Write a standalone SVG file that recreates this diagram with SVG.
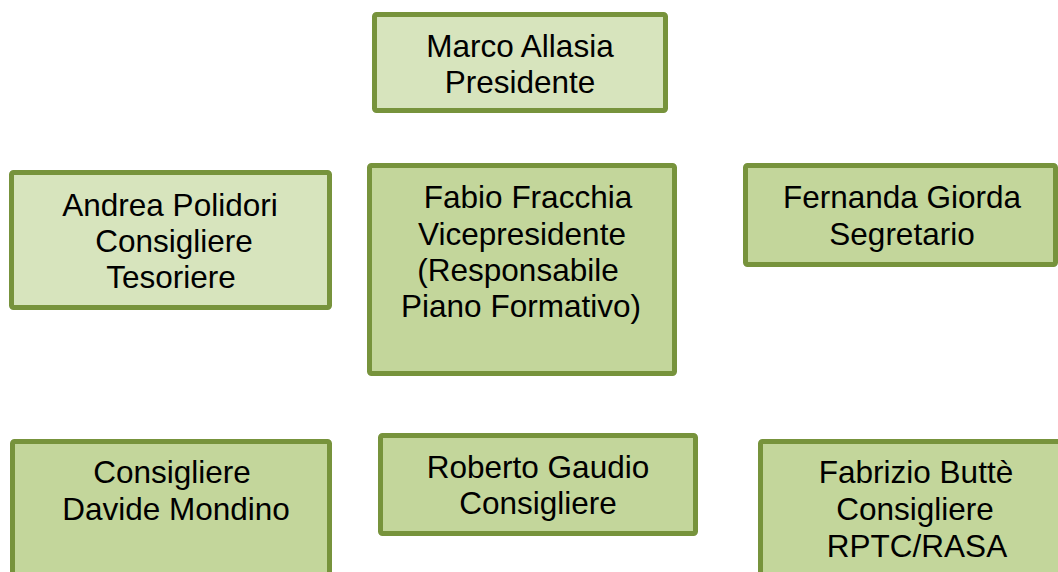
<svg xmlns="http://www.w3.org/2000/svg" width="1058" height="572" viewBox="0 0 1058 572">
<style>
.box{stroke:#77933c;stroke-width:5;}
.light{fill:#d7e4bd;}
.dark{fill:#c3d69b;}
text{font-family:"Liberation Sans",Arial,sans-serif;font-size:31.5px;fill:#000;text-anchor:middle;}
</style>
<rect width="1058" height="572" fill="#ffffff"/>
<g id="connectors"/>
<g id="marco">
<rect class="box light" x="374.5" y="14.5" width="291" height="96" rx="2"/>
<text x="520" y="57">Marco Allasia</text>
<text x="520" y="93">Presidente</text>
</g>
<g id="andrea">
<rect class="box light" x="11.5" y="172.5" width="318" height="135" rx="2"/>
<text x="170" y="216">Andrea Polidori</text>
<text x="174" y="252">Consigliere</text>
<text x="171" y="288">Tesoriere</text>
</g>
<g id="fabio">
<rect class="box dark" x="369.5" y="165.5" width="305" height="208" rx="2"/>
<text x="528" y="208">Fabio Fracchia</text>
<text x="522" y="245">Vicepresidente</text>
<text x="518" y="281">(Responsabile</text>
<text x="521" y="317">Piano Formativo)</text>
</g>
<g id="fernanda">
<rect class="box dark" x="745.5" y="165.5" width="310" height="99" rx="2"/>
<text x="902" y="208">Fernanda Giorda</text>
<text x="902" y="245">Segretario</text>
</g>
<g id="davide">
<rect class="box dark" x="12.5" y="441.5" width="317" height="140" rx="2"/>
<text x="172" y="483">Consigliere</text>
<text x="176" y="520">Davide Mondino</text>
</g>
<g id="roberto">
<rect class="box dark" x="380.5" y="435.5" width="315" height="98" rx="2"/>
<text x="538" y="478">Roberto Gaudio</text>
<text x="538" y="514">Consigliere</text>
</g>
<g id="fabrizio">
<rect class="box dark" x="760.5" y="441.5" width="310" height="140" rx="2"/>
<text x="916" y="483">Fabrizio Buttè</text>
<text x="915" y="520">Consigliere</text>
<text x="917" y="557">RPTC/RASA</text>
</g>
</svg>
